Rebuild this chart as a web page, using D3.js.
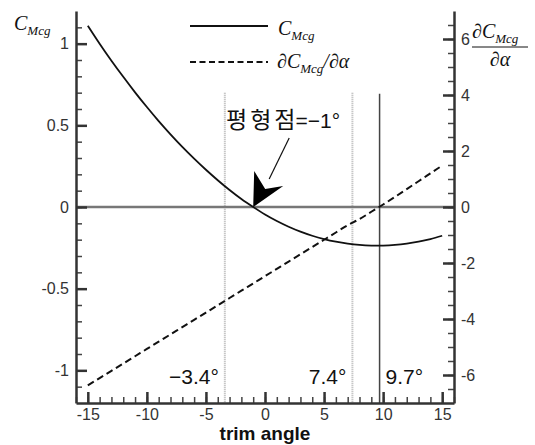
<!DOCTYPE html>
<html>
<head>
<meta charset="utf-8">
<script src="https://cdn.jsdelivr.net/npm/d3@7"></script>
<style>
  body { margin: 0; background: #fff; }
  svg { display: block; }
  .tick text { font-family: "Liberation Sans", Arial, sans-serif; font-size: 16px; fill: #333; }
  .math { font-family: "Liberation Serif", "Times New Roman", serif; font-style: italic; fill: #111; }
  .note { font-family: "Liberation Sans", "Noto Sans CJK KR", sans-serif; font-size: 21px; fill: #111; }
</style>
</head>
<body>
<div id="chart"></div>
<script>
// data
const trimAngle = [-15, -14, -13, -12, -11, -10, -9, -8, -7, -6, -5, -4, -3, -2, -1,
  0, 1, 2, 3, 4, 5, 6, 7, 8, 9, 10, 11, 12, 13, 14, 15];
const cmcg = [1.11, 1.0, 0.896, 0.797, 0.702, 0.612, 0.526, 0.445, 0.368, 0.296, 0.228,
  0.164, 0.104, 0.049, 0.0, -0.046, -0.086, -0.121, -0.151, -0.176, -0.196, -0.212,
  -0.224, -0.232, -0.236, -0.236, -0.232, -0.224, -0.212, -0.196, -0.176];
const dCmcg = [-6.37, -6.11, -5.85, -5.59, -5.33, -5.07, -4.81, -4.55, -4.29, -4.03, -3.77,
  -3.51, -3.25, -2.99, -2.73, -2.47, -2.21, -1.95, -1.69, -1.43, -1.17, -0.91, -0.65,
  -0.43, -0.17, 0.09, 0.36, 0.64, 0.92, 1.2, 1.48];

const xTicks = [-15, -10, -5, 0, 5, 10, 15];
const leftTicks = [-1, -0.5, 0, 0.5, 1];
const rightTicks = [-6, -4, -2, 0, 2, 4, 6];

const limitAngles = [-3.4, 7.4];   // dotted lines
const trimPoint = 9.7;             // solid line
const balanceAngle = -1;           // 평형점

const width = 535, height = 445;
const margin = { top: 11, right: 81, bottom: 42, left: 76 };

const svg = d3.select("#chart")
  .append("svg")
  .attr("width", width)
  .attr("height", height);

const x = d3.scaleLinear().domain([-16, 16]).range([margin.left, width - margin.right]);
const yL = d3.scaleLinear().domain([-1.2, 1.2]).range([height - margin.bottom, margin.top]);
const yR = d3.scaleLinear().domain([-7, 7]).range([height - margin.bottom, margin.top]);

const fmt = d => String(d);

// minor ticks
svg.append("g")
  .attr("transform", `translate(0,${height - margin.bottom})`)
  .call(d3.axisBottom(x).tickValues(d3.range(-16, 16.5, 1)).tickSize(-6).tickFormat(""))
  .call(g => g.select(".domain").remove());
svg.append("g")
  .attr("transform", `translate(${margin.left},0)`)
  .call(d3.axisLeft(yL).tickValues(d3.range(-11, 12, 1).map(d => d / 10)).tickSize(-6).tickFormat(""))
  .call(g => g.select(".domain").remove());
svg.append("g")
  .attr("transform", `translate(${width - margin.right},0)`)
  .call(d3.axisRight(yR).tickValues(d3.range(-13, 14, 1).map(d => d / 2)).tickSize(-6).tickFormat(""))
  .call(g => g.select(".domain").remove());

// reference lines
const refTop = yL(0.7);
svg.append("g")
  .selectAll("line")
  .data(limitAngles)
  .join("line")
  .attr("x1", d => x(d)).attr("x2", d => x(d))
  .attr("y1", refTop).attr("y2", height - margin.bottom)
  .attr("stroke", "#b5b5b5")
  .attr("stroke-width", 2)
  .attr("stroke-dasharray", "1,1");

svg.append("line")
  .attr("x1", x(trimPoint)).attr("x2", x(trimPoint))
  .attr("y1", refTop + 1).attr("y2", height - margin.bottom)
  .attr("stroke", "#444")
  .attr("stroke-width", 1.5);

// zero line
svg.append("line")
  .attr("x1", margin.left).attr("x2", width - margin.right)
  .attr("y1", yL(0)).attr("y2", yL(0))
  .attr("stroke", "#777")
  .attr("stroke-width", 2.5);

// curves
const points = trimAngle.map((a, i) => ({ a, c: cmcg[i], d: dCmcg[i] }));

svg.append("path")
  .datum(points)
  .attr("fill", "none")
  .attr("stroke", "#111")
  .attr("stroke-width", 1.8)
  .attr("d", d3.line().x(p => x(p.a)).y(p => yL(p.c)).curve(d3.curveNatural));

svg.append("path")
  .datum(points)
  .attr("fill", "none")
  .attr("stroke", "#111")
  .attr("stroke-width", 2)
  .attr("stroke-dasharray", "7,4")
  .attr("d", d3.line().x(p => x(p.a)).y(p => yR(p.d)).curve(d3.curveNatural));

// major axes
const bottomAxis = svg.append("g")
  .attr("transform", `translate(0,${height - margin.bottom})`)
  .call(d3.axisBottom(x).tickValues(xTicks).tickSize(-11).tickSizeOuter(0).tickPadding(6).tickFormat(fmt));
const leftAxis = svg.append("g")
  .attr("transform", `translate(${margin.left},0)`)
  .call(d3.axisLeft(yL).tickValues(leftTicks).tickSize(-11).tickSizeOuter(0).tickPadding(7).tickFormat(fmt));
const rightAxis = svg.append("g")
  .attr("transform", `translate(${width - margin.right},0)`)
  .call(d3.axisRight(yR).tickValues(rightTicks).tickSize(-11).tickSizeOuter(0).tickPadding(7).tickFormat(fmt));

[bottomAxis, leftAxis, rightAxis].forEach(g => {
  g.select(".domain").attr("stroke", "#333").attr("stroke-width", 2.5);
  g.selectAll(".tick line").attr("stroke", "#333").attr("stroke-width", 2.5);
});
svg.selectAll(".tick line").filter(function () { return !this.getAttribute("stroke-width"); })
  .attr("stroke", "#444").attr("stroke-width", 1.5);

// x axis title
svg.append("text")
  .attr("x", x(0))
  .attr("y", 440)
  .attr("text-anchor", "middle")
  .style("font-family", "'Liberation Sans', Arial, sans-serif")
  .style("font-weight", "bold")
  .style("font-size", "19px")
  .attr("fill", "#111")
  .text("trim angle");

// math labels: C with subscript Mcg
function cLabel(xPos, yPos, before, after) {
  const t = svg.append("text").attr("class", "math").attr("x", xPos).attr("y", yPos)
    .style("font-size", "20px");
  t.append("tspan").text(before + "C");
  t.append("tspan").text("Mcg").style("font-size", "13px").attr("dy", 5);
  if (after) t.append("tspan").text(after).attr("dy", -5);
  return t;
}

cLabel(14, 30, "", "");

// right axis title as a fraction
cLabel(472, 38, "\u2202", "");
svg.append("line")
  .attr("x1", 472).attr("x2", 528)
  .attr("y1", 47).attr("y2", 47)
  .attr("stroke", "#111").attr("stroke-width", 1);
svg.append("text").attr("class", "math")
  .attr("x", 500).attr("y", 66)
  .attr("text-anchor", "middle")
  .style("font-size", "20px")
  .text("\u2202\u03b1");

// legend
const legend = svg.append("g");
legend.append("line")
  .attr("x1", 190).attr("x2", 268).attr("y1", 26).attr("y2", 26)
  .attr("stroke", "#111").attr("stroke-width", 1.8);
legend.append("line")
  .attr("x1", 190).attr("x2", 268).attr("y1", 62).attr("y2", 62)
  .attr("stroke", "#111").attr("stroke-width", 2).attr("stroke-dasharray", "6,3.5");
cLabel(278, 35, "", "");
cLabel(277, 68, "\u2202", "/\u2202\u03b1");

// angle notes
svg.append("g")
  .selectAll("text")
  .data(limitAngles)
  .join("text")
  .attr("class", "note")
  .attr("x", d => x(d) - 6)
  .attr("y", 384)
  .attr("text-anchor", "end")
  .text(d => (d < 0 ? "\u2212" + Math.abs(d) : d) + "\u00b0");

svg.append("text")
  .attr("class", "note")
  .attr("x", x(trimPoint) + 6)
  .attr("y", 384)
  .text(trimPoint + "\u00b0");

// balance point annotation
const tipX = x(balanceAngle), tipY = yL(0);
const note = svg.append("text")
  .attr("class", "note")
  .attr("x", 226)
  .attr("y", 128);
note.append("tspan")
  .style("font-family", "'Noto Sans CJK KR', sans-serif")
  .style("font-size", "23px")
  .attr("letter-spacing", 3)
  .text("평형점");
note.append("tspan")
  .attr("dx", -3)
  .text("=\u2212" + Math.abs(balanceAngle) + "\u00b0");

svg.append("line")
  .attr("x1", tipX + 36).attr("y1", tipY - 69)
  .attr("x2", tipX + 16).attr("y2", tipY - 28)
  .attr("stroke", "#111").attr("stroke-width", 1.2);

svg.append("path")
  .attr("d", `M${tipX},${tipY} L${tipX + 1},${tipY - 36} L${tipX + 12},${tipY - 18} L${tipX + 30},${tipY - 21} Z`)
  .attr("fill", "#000");
</script>
</body>
</html>
